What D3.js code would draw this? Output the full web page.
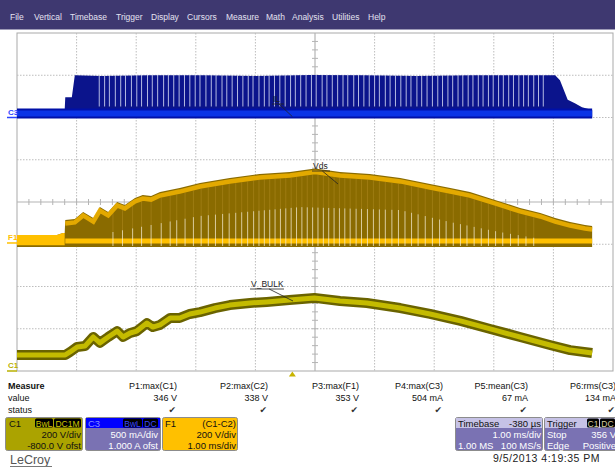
<!DOCTYPE html>
<html>
<head>
<meta charset="utf-8">
<script src="https://cdn.jsdelivr.net/npm/d3@7"></script>
<style>
  body { margin: 0; background: #fff; }
  svg { display: block; font-family: "Liberation Sans", Arial, sans-serif; }
</style>
</head>
<body>
<svg id="scope" width="615" height="469"></svg>
<script>
// ---- Menu ----
const menuItems = ["File", "Vertical", "Timebase", "Trigger", "Display", "Cursors",
                   "Measure", "Math", "Analysis", "Utilities", "Help"];

// ---- Acquisition settings ----
const timePerDivMs = 1.0;
const triggerDelayMs = -0.38;
const c1VoltsPerDiv = 200, c1OffsetV = -800;     // C1: V_BULK
const c3AmpsPerDiv = 0.5, c3OffsetA = 1.0;       // C3: inductor current
const f1VoltsPerDiv = 200, f1OffsetV = -194;     // F1 = C1 - C2 (Vds)

// ---- C1: bulk voltage (ms, V) ----
const c1Time = [-4.62, -3.81, -3.73, -3.61, -3.48, -3.34, -3.23, -3.09, -2.94, -2.84,
                -2.72, -2.61, -2.44, -2.34, -2.22, -2.05, -1.89, -1.72, -1.55, -1.30,
                -1.05, -0.71, -0.43, -0.05, 0.37, 0.80, 1.25, 1.81, 2.31, 2.82,
                3.32, 3.82, 4.32, 4.66, 5.03];
const c1Volts = [76, 76, 90, 114, 118, 161, 133, 161, 189, 161,
                 180, 189, 227, 208, 218, 251, 251, 270, 279, 298,
                 312, 322, 327, 336, 346, 331, 322, 298, 270, 237,
                 199, 161, 123, 99, 85];

// ---- C3: current, upper envelope of switching pulses (ms, A) ----
const c3Time = [-3.82, -3.81, -3.70, -3.65, -3.20, -2.40, -1.50, -0.60, 0.30, 1.20,
                2.10, 3.00, 3.90, 4.41, 4.49, 4.57, 4.62, 4.74, 4.86, 5.03];
const c3TopA = [0.09, 0.24, 0.24, 0.50, 0.49, 0.50, 0.50, 0.49, 0.504, 0.50,
                0.49, 0.50, 0.50, 0.50, 0.44, 0.30, 0.21, 0.17, 0.12, 0.09];
const c3BaseA = 0.047;
const c3GapMs = [-3.24, -3.15, -3.07, -2.97, -2.88, -2.80, -2.70, -2.61, -2.53, -2.43,
                 -2.35, -2.26, -2.16, -2.08, -1.99, -1.90, -1.81, -1.72, -1.63, -1.55,
                 -1.45, -1.36, -1.28, -1.18, -1.10, -1.01, -0.92, -0.83, -0.74, -0.66,
                 -0.56, -0.47, -0.39, -0.30, -0.21, -0.12, -0.03, 0.05, 0.14, 0.23,
                 0.32, 0.40, 0.50, 0.58, 0.67, 0.76, 0.85, 0.93, 1.03, 1.11,
                 1.20, 1.29, 1.38, 1.46, 1.56, 1.64, 1.73, 1.82, 1.91, 1.99,
                 2.09, 2.17, 2.26, 2.35, 2.44, 2.52, 2.61, 2.69, 2.78, 2.86,
                 2.95, 3.03, 3.12, 3.20, 3.29, 3.37, 3.46, 3.54, 3.63, 3.71,
                 3.80, 3.88, 3.96, 4.05, 4.13, 4.21];
const c3GapLowA = 0.13;

// ---- F1: Vds envelope (ms, V) ----
const f1Time = [-4.62, -3.95, -3.85, -3.82, -3.81, -3.65, -3.51, -3.34, -3.23, -3.09,
                -2.94, -2.81, -2.64, -2.51, -2.37, -2.22, -1.89, -1.55, -1.05, -0.55,
                -0.04, 0.38, 0.80, 1.30, 1.81, 2.31, 2.65, 2.98, 3.40, 3.82,
                4.16, 4.41, 4.66, 4.91, 5.03];
const f1TopV = [38, 38, 47, 47, 109, 114, 147, 118, 170, 147,
                194, 180, 213, 227, 222, 241, 260, 284, 308, 327,
                336, 353, 336, 327, 308, 279, 260, 241, 204, 166,
                142, 118, 99, 85, 80];
const f1BottomV = -19;
const f1BaseV = 9;
const f1GapTime = [-3.01, -1.55, 0.13, 1.81, 2.65, 3.48, 4.07];
const f1GapTopV = [52, 128, 170, 156, 99, 52, 24];
const f1GapMs = [-3.01, -2.85, -2.68, -2.53, -2.37, -2.20, -2.05, -1.94, -1.80, -1.66,
                 -1.53, -1.41, -1.29, -1.17, -1.06, -0.95, -0.85, -0.75, -0.65, -0.56,
                 -0.47, -0.38, -0.29, -0.20, -0.11, -0.02, 0.07, 0.16, 0.25, 0.34,
                 0.43, 0.52, 0.61, 0.70, 0.79, 0.88, 0.97, 1.07, 1.16, 1.26,
                 1.36, 1.46, 1.56, 1.67, 1.78, 1.89, 2.00, 2.11, 2.23, 2.35,
                 2.47, 2.58, 2.70, 2.82, 2.93, 3.05, 3.17, 3.29, 3.41, 3.53,
                 3.66, 3.79, 3.92, 4.05];

// ---- Measurements ----
const measNames = ["P1:max(C1)", "P2:max(C2)", "P3:max(F1)", "P4:max(C3)", "P5:mean(C3)", "P6:rms(C3)"];
const measValues = ["346 V", "338 V", "353 V", "504 mA", "67 mA", "134 mA"];

// ---- Channel descriptor texts ----
const c1Info = ["C1", "BwL", "DC1M", "200 V/div", "-800.0 V ofst"];
const c3Info = ["C3", "BwL", "DC", "500 mA/div", "1.000 A ofst"];
const f1Info = ["F1", "(C1-C2)", "200 V/div", "1.00 ms/div"];
const tbInfo = ["Timebase", "-380 µs", "1.00 ms/div", "1.00 MS", "100 MS/s"];
const trigInfo = ["Trigger", "C1", "DC", "Stop", "356 V", "Edge", "Positive"];
const stampText = "9/5/2013 4:19:35 PM";

// ================= drawing =================
const svg = d3.select("#scope");
const W = 615;

// layout
const menuLeft = [10, 34, 70, 116, 151, 187, 226, 266, 292, 332, 368];
const gx0 = 17, gx1 = 613, gy0 = 33, gy1 = 371;
const FONT_SYM = "'DejaVu Sans', sans-serif";

// menu bar
svg.append("rect").attr("width", W).attr("height", 29.5).attr("fill", "#3e3870");
svg.append("g").selectAll("text").data(menuItems).join("text")
  .attr("x", (d, i) => menuLeft[i]).attr("y", 19.5)
  .attr("font-size", 8.5).attr("fill", "#e4e2f0").text(d => d);

// scales
const centerMs = -triggerDelayMs;
const x = d3.scaleLinear()
  .domain([centerMs - 5 * timePerDivMs, centerMs + 5 * timePerDivMs])
  .range([gx0, gx1]);
const xDiv = d3.scaleLinear().domain([-5, 5]).range([gx0, gx1]);
const yDiv = d3.scaleLinear().domain([-4, 4]).range([gy1, gy0]);
const yC1 = v => yDiv((v + c1OffsetV) / c1VoltsPerDiv);
const yC3 = a => yDiv((a + c3OffsetA) / c3AmpsPerDiv);
const yF1 = v => yDiv((v + f1OffsetV) / f1VoltsPerDiv);

function interp(xs, ys, t) {
  const i = Math.max(1, Math.min(xs.length - 1, d3.bisectLeft(xs, t)));
  const k = (t - xs[i - 1]) / (xs[i] - xs[i - 1]);
  return ys[i - 1] + (ys[i] - ys[i - 1]) * Math.max(0, Math.min(1, k));
}

// graticule
const grid = svg.append("g");
grid.append("rect").attr("x", gx0).attr("y", gy0)
  .attr("width", gx1 - gx0).attr("height", gy1 - gy0)
  .attr("fill", "#fff").attr("stroke", "#a9a9a9").attr("stroke-width", 1);
grid.selectAll(".vg").data(d3.range(-4, 5).filter(d => d !== 0)).join("line")
  .attr("x1", d => xDiv(d)).attr("x2", d => xDiv(d)).attr("y1", gy0).attr("y2", gy1)
  .attr("stroke", "#bdbdbd").attr("stroke-dasharray", "1.5,1.5");
grid.selectAll(".hg").data(d3.range(-3, 4).filter(d => d !== 0)).join("line")
  .attr("y1", d => yDiv(d)).attr("y2", d => yDiv(d)).attr("x1", gx0).attr("x2", gx1)
  .attr("stroke", "#bdbdbd").attr("stroke-dasharray", "1.5,1.5");
grid.append("line").attr("x1", xDiv(0)).attr("x2", xDiv(0)).attr("y1", gy0).attr("y2", gy1)
  .attr("stroke", "#b4b4b4").attr("stroke-width", 1.2);
grid.append("line").attr("y1", yDiv(0)).attr("y2", yDiv(0)).attr("x1", gx0).attr("x2", gx1)
  .attr("stroke", "#b4b4b4").attr("stroke-width", 1.2);
grid.selectAll(".tx").data(d3.range(-4.8, 5, 0.2)).join("line")
  .attr("x1", d => xDiv(d)).attr("x2", d => xDiv(d))
  .attr("y1", yDiv(0) - 3).attr("y2", yDiv(0) + 3)
  .attr("stroke", "#b4b4b4");
grid.selectAll(".ty").data(d3.range(-3.8, 4, 0.2)).join("line")
  .attr("y1", d => yDiv(d)).attr("y2", d => yDiv(d))
  .attr("x1", xDiv(0) - 3).attr("x2", xDiv(0) + 3)
  .attr("stroke", "#b4b4b4");

// ---- C3 trace ----
const c3 = svg.append("g");
const c3Pts = c3Time.map((t, i) => [t, c3TopA[i]]);
c3.append("path").datum(c3Pts)
  .attr("d", d3.area().x(d => x(d[0])).y0(yC3(-0.005)).y1(d => yC3(d[1])))
  .attr("fill", "#0b148c");
c3.selectAll(".gap").data(c3GapMs).join("line")
  .attr("x1", d => x(d)).attr("x2", d => x(d))
  .attr("y1", d => yC3(interp(c3Time, c3TopA, d)) - 0.5)
  .attr("y2", yC3(c3GapLowA))
  .attr("stroke", "#dfe4f8").attr("stroke-opacity", 0.8).attr("stroke-width", 1);
const c3Base = [[x.domain()[0], c3BaseA], [c3Time[c3Time.length - 1], c3BaseA]];
const baseLine = d3.line().x(d => x(d[0])).y(d => yC3(d[1]));
c3.append("path").datum(c3Base).attr("d", baseLine)
  .attr("stroke", "#0010a8").attr("stroke-width", 10).attr("fill", "none");
c3.append("path").datum(c3Base).attr("d", baseLine)
  .attr("stroke", "#0a34e6").attr("stroke-width", 6).attr("fill", "none");

// ---- F1 trace ----
const f1 = svg.append("g");
const f1Pts = f1Time.map((t, i) => [t, f1TopV[i]]);
const burstIdx = 4;
f1.append("path").datum(f1Pts)
  .attr("d", d3.area().x(d => x(d[0])).y0(yF1(f1BottomV)).y1(d => yF1(d[1])))
  .attr("fill", "#8a6b00");
// pre-burst band is bright
f1.append("path").datum(f1Pts.slice(0, burstIdx))
  .attr("d", d3.area().x(d => x(d[0])).y0(yF1(f1BottomV + 8)).y1(d => yF1(d[1])))
  .attr("fill", "#ffc000");
// faint striations in the upper part of the switching envelope
f1.selectAll(".stria").data(f1GapMs).join("line")
  .attr("x1", d => x(d)).attr("x2", d => x(d))
  .attr("y1", d => yF1(interp(f1Time, f1TopV, d)) + 6)
  .attr("y2", d => yF1(interp(f1GapTime, f1GapTopV, d)))
  .attr("stroke", "#c49a30").attr("stroke-opacity", 0.35).attr("stroke-width", 1);
// bright ridge along the top of the switching envelope
f1.append("path").datum(f1Pts.slice(burstIdx))
  .attr("d", d3.line().x(d => x(d[0])).y(d => yF1(d[1]) + 3.5))
  .attr("stroke", "#f2b400").attr("stroke-opacity", 0.85)
  .attr("stroke-width", 4.5).attr("fill", "none");
// bottom bright band
const f1Base = [[f1Time[burstIdx], f1BaseV], [f1Time[f1Time.length - 1], f1BaseV]];
f1.append("path").datum(f1Base)
  .attr("d", d3.line().x(d => x(d[0])).y(d => yF1(d[1])))
  .attr("stroke", "#ffc000").attr("stroke-width", 5).attr("fill", "none");
// pulse dropouts
f1.selectAll(".gap").data(f1GapMs).join("line")
  .attr("x1", d => x(d)).attr("x2", d => x(d))
  .attr("y1", d => yF1(interp(f1GapTime, f1GapTopV, d)))
  .attr("y2", yF1(f1BottomV) - 1)
  .attr("stroke", "#f6ecd0").attr("stroke-opacity", 0.75).attr("stroke-width", 1);

// ---- C1 trace ----
const c1 = svg.append("g");
const c1Pts = c1Time.map((t, i) => [t, c1Volts[i]]);
const c1Line = d3.line().x(d => x(d[0])).y(d => yC1(d[1]));
c1.append("path").datum(c1Pts).attr("d", c1Line)
  .attr("stroke", "#6a6300").attr("stroke-width", 10).attr("fill", "none")
  .attr("stroke-linejoin", "round");
c1.append("path").datum(c1Pts).attr("d", c1Line)
  .attr("stroke", "#c4bb00").attr("stroke-width", 5).attr("fill", "none")
  .attr("stroke-linejoin", "round");

// ---- ground markers ----
function marker(label, color, y0) {
  svg.append("text").attr("x", 8).attr("y", y0 - 3).attr("font-size", 8)
    .attr("font-weight", "bold").attr("fill", color).text(label);
  svg.append("line").attr("x1", 7).attr("x2", 17).attr("y1", y0).attr("y2", y0)
    .attr("stroke", color).attr("stroke-width", 1.5);
}
marker("C3", "#2a44ff", yC3(0));
marker("F1", "#ffc000", yF1(0));
marker("C1", "#b8b000", yC1(0));

// ---- trace labels ----
function tag(text, tx, ty, w, lx, ly) {
  svg.append("text").attr("x", tx).attr("y", ty).attr("font-size", 8.5)
    .attr("fill", "#222").text(text);
  svg.append("line").attr("x1", tx - 1).attr("x2", tx + w).attr("y1", ty + 2).attr("y2", ty + 2)
    .attr("stroke", "#222").attr("stroke-width", 0.8);
  svg.append("line").attr("x1", tx + w * 0.55).attr("y1", ty + 2).attr("x2", lx).attr("y2", ly)
    .attr("stroke", "#222").attr("stroke-width", 0.8);
}
tag("IL", 273, 102, 11, x(0), yC3(0.01));
tag("Vds", 313, 169, 17, 338, 184);
tag("V_BULK", 251, 287, 33, 293, 301);

// trigger position marker
const trigX = x(0);
svg.append("path")
  .attr("d", `M${trigX - 3.5},${gy1 + 5.5}L${trigX + 3.5},${gy1 + 5.5}L${trigX},${gy1 + 0.5}Z`)
  .attr("fill", "#c8b400");

// ---- measurement table ----
const colRight = [177, 268, 359, 443, 528, 616];
const mt = svg.append("g").attr("font-size", 9).attr("fill", "#111");
mt.append("text").attr("x", 8).attr("y", 389).attr("font-weight", "bold").text("Measure");
mt.append("text").attr("x", 8).attr("y", 401).text("value");
mt.append("text").attr("x", 8).attr("y", 413).text("status");
measNames.forEach((n, i) => {
  mt.append("text").attr("x", colRight[i]).attr("y", 389).attr("text-anchor", "end").text(n);
  mt.append("text").attr("x", colRight[i]).attr("y", 401).attr("text-anchor", "end").text(measValues[i]);
  mt.append("text").attr("x", colRight[i] - 1).attr("y", 413).attr("text-anchor", "end")
    .attr("font-family", FONT_SYM).attr("font-size", 9).attr("fill", "#333").text("\u2714");
});

// ---- descriptor boxes ----
const boxes = svg.append("g").attr("font-size", 9.5);
function box(x0, w, fill) {
  boxes.append("rect").attr("x", x0 + 0.5).attr("y", 417.5).attr("width", w).attr("height", 33)
    .attr("rx", 2).attr("fill", fill).attr("stroke", "#8c8c8c");
}
function header(x0, w, fill) {
  boxes.append("rect").attr("x", x0 + 1).attr("y", 418).attr("width", w - 1).attr("height", 10)
    .attr("fill", fill);
}
function badge(x0, w, label, color) {
  boxes.append("rect").attr("x", x0).attr("y", 418.5).attr("width", w).attr("height", 9)
    .attr("rx", 1.5).attr("fill", "#000");
  boxes.append("text").attr("x", x0 + w / 2).attr("y", 426.5).attr("text-anchor", "middle")
    .attr("font-size", 8.5).attr("fill", color).text(label);
}
function txt(x0, y0, s, color, anchor) {
  boxes.append("text").attr("x", x0).attr("y", y0).attr("fill", color)
    .attr("text-anchor", anchor || "start").text(s);
}

// C1
box(5, 77, "#aba300");
txt(9, 426.5, c1Info[0], "#111");
badge(35, 18, c1Info[1], "#cfc700");
badge(54, 27, c1Info[2], "#cfc700");
txt(81, 438, c1Info[3], "#111", "end");
txt(81, 449, c1Info[4], "#111", "end");

// C3
box(85, 75, "#7a72b3");
header(85, 75, "#0000ff");
txt(88, 426.5, c3Info[0], "#8890ff");
badge(123, 19, c3Info[1], "#3a46ff");
badge(143, 15, c3Info[2], "#3a46ff");
txt(158, 438, c3Info[3], "#fff", "end");
txt(158, 449, c3Info[4], "#fff", "end");

// F1
box(162, 75, "#ffc000");
txt(165, 426.5, f1Info[0], "#111");
txt(236, 426.5, f1Info[1], "#111", "end");
txt(236, 438, f1Info[2], "#111", "end");
txt(236, 449, f1Info[3], "#111", "end");

// Timebase
box(455, 87, "#7a72b3");
header(455, 87, "#c6c2e6");
txt(458, 426.5, tbInfo[0], "#111");
txt(541, 426.5, tbInfo[1], "#111", "end");
txt(541, 438, tbInfo[2], "#fff", "end");
txt(458, 449, tbInfo[3], "#fff");
txt(541, 449, tbInfo[4], "#fff", "end");

// Trigger
box(544, 80, "#7a72b3");
header(544, 80, "#c6c2e6");
txt(547, 426.5, trigInfo[0], "#111");
badge(587, 12, trigInfo[1], "#d8d0a0");
badge(600, 15, trigInfo[2], "#d8d0a0");
txt(547, 438, trigInfo[3], "#fff");
txt(616, 438, trigInfo[4], "#fff", "end");
txt(547, 449, trigInfo[5], "#fff");
txt(616, 449, trigInfo[6], "#fff", "end");

// time stamp and brand
svg.append("text").attr("x", 600).attr("y", 462).attr("text-anchor", "end")
  .attr("font-size", 10.5).attr("fill", "#222")
  .attr("letter-spacing", 0.5).text(stampText);
svg.append("text").attr("x", 10).attr("y", 464).attr("font-size", 12.5)
  .attr("fill", "#555").text("LeCroy");
svg.append("line").attr("x1", 10).attr("x2", 52).attr("y1", 466.5).attr("y2", 466.5)
  .attr("stroke", "#777").attr("stroke-width", 1);
</script>
</body>
</html>
